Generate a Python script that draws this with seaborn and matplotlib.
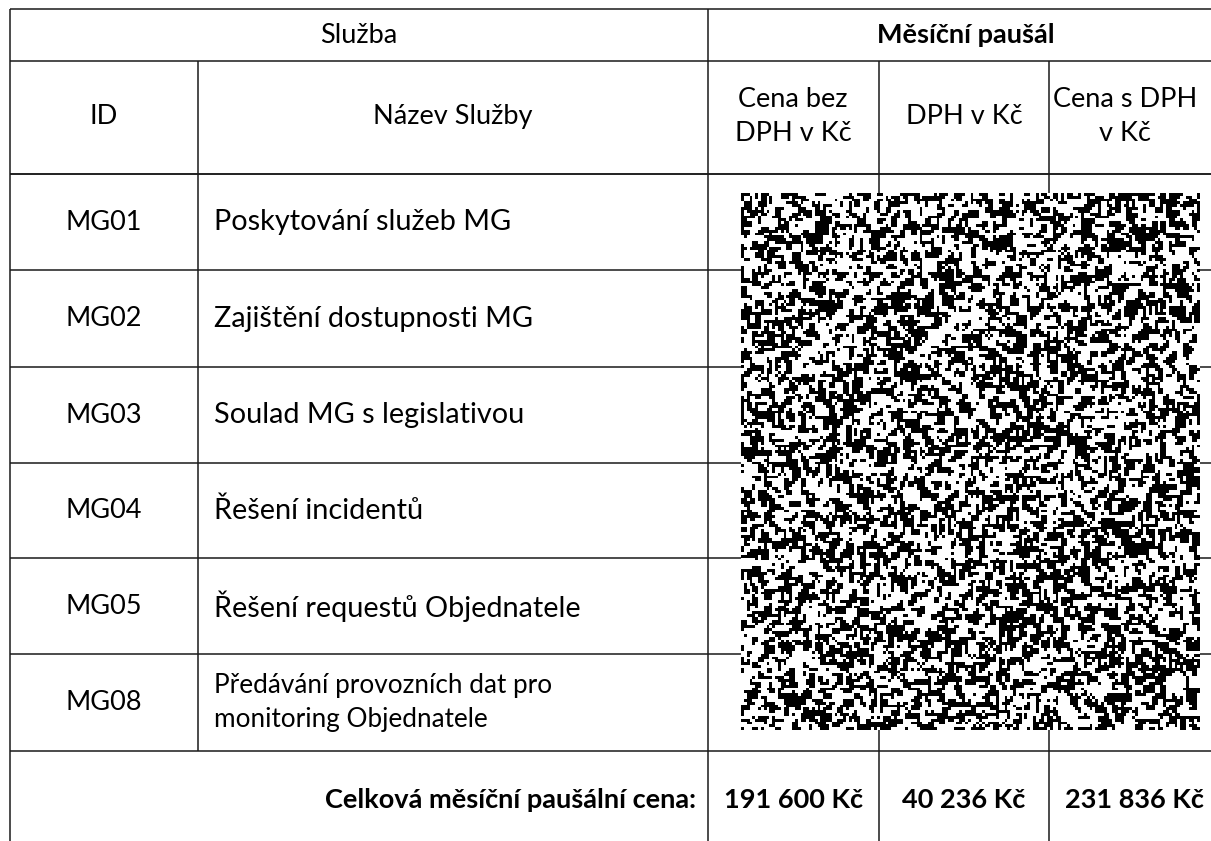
import matplotlib
matplotlib.use("Agg")
import matplotlib.pyplot as plt
import numpy as np
import seaborn as sns

# table content
group_headers = ["Služba", "Měsíční paušál"]
col_headers = ["ID", "Název Služby", "Cena bez\nDPH v Kč", "DPH v Kč", "Cena s DPH\nv Kč"]
service_ids = ["MG01", "MG02", "MG03", "MG04", "MG05", "MG08"]
service_names = [
    "Poskytování služeb MG",
    "Zajištění dostupnosti MG",
    "Soulad MG s legislativou",
    "Řešení incidentů",
    "Řešení requestů Objednatele",
    "Předávání provozních dat pro\nmonitoring Objednatele",
]
total_label = "Celková měsíční paušální cena:"
totals = ["191 600 Kč", "40 236 Kč", "231 836 Kč"]

W, H = 1211, 841
sns.set_theme(style="white")
plt.rcParams["font.family"] = ["Lato", "DejaVu Sans"]

fig = plt.figure(figsize=(W / 100, H / 100), dpi=100)
ax = fig.add_axes([0, 0, 1, 1])
ax.set_xlim(0, W)
ax.set_ylim(H, 0)
ax.axis("off")

# grid geometry in pixels
left, top = 10, 9
col_x = [198, 708, 879, 1049]
head_y = [61, 174]
row_y = [174, 270, 367, 463, 558, 654, 751]

lc = "#1a1a1a"
lw = 1.1
ax.vlines(left, top, H, color=lc, lw=lw)
ax.hlines([top] + head_y + row_y, left, W, color=lc, lw=lw)
ax.vlines(col_x[0], head_y[0], row_y[-1], color=lc, lw=lw)
ax.vlines(col_x[1], top, H, color=lc, lw=lw)
ax.vlines(col_x[2:], head_y[0], H, color=lc, lw=lw)

fs = 19.5
txt = dict(color="black", va="center", fontsize=fs)

ax.text(359, 35, group_headers[0], ha="center", **txt)
ax.text(966, 35, group_headers[1], ha="center", fontweight="bold", **txt)

head_cx = [104, 453, 793, 964, 1125]
for cx, lab in zip(head_cx, col_headers):
    ax.text(cx, 116, lab, ha="center", linespacing=1.45, **txt)

for i, (sid, name) in enumerate(zip(service_ids, service_names)):
    cy = (row_y[i] + row_y[i + 1]) / 2
    ax.text(104, cy, sid, ha="center", **txt)
    if "\n" in name:
        ax.text(214, cy, name, ha="left", va="center", fontsize=18.8,
                linespacing=1.4, color="black")
    else:
        ax.text(214, cy, name, ha="left", va="center", fontsize=20.8,
                color="black")

ax.text(696, 800, total_label, ha="right", fontweight="bold", **txt)
for cx, val in zip([793, 964, 1134], totals):
    ax.text(cx, 800, val, ha="center", fontweight="bold", **txt)

# redaction mask over the price cells (texture only, not data)
ny, nx = 190, 162
rng = np.random.default_rng(7)
raw = rng.random((ny, nx))
pad = np.pad(raw, 1, mode="edge")
smooth = (2 * pad[1:-1, 1:-1] + pad[:-2, 1:-1] + pad[2:, 1:-1]
          + pad[1:-1, :-2] + pad[1:-1, 2:]) / 6
mask = (smooth > np.quantile(smooth, 0.52)).astype(int)

mx0, mx1, my0, my1 = 741, 1200, 193, 730
max_ = fig.add_axes([mx0 / W, 1 - my1 / H, (mx1 - mx0) / W, (my1 - my0) / H])
sns.heatmap(mask, ax=max_, cmap=["white", "black"], cbar=False,
            xticklabels=False, yticklabels=False)
max_.axis("off")

fig.savefig("out.png", dpi=100, facecolor="white")
